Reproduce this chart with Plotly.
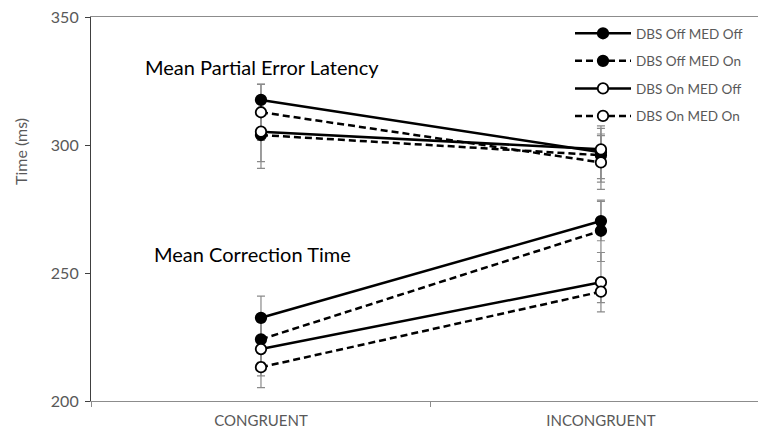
import plotly.graph_objects as go

categories = ["CONGRUENT", "INCONGRUENT"]
series_names = ["DBS Off MED Off", "DBS Off MED On", "DBS On MED Off", "DBS On MED On"]

# Mean Partial Error Latency (ms)
latency_means = {
    "DBS Off MED Off": [317.6, 297.2],
    "DBS Off MED On": [303.9, 296.0],
    "DBS On MED Off": [305.2, 298.3],
    "DBS On MED On": [312.8, 293.2],
}
latency_errors = {
    "DBS Off MED Off": [6.1, 10.3],
    "DBS Off MED On": [13.0, 10.5],
    "DBS On MED Off": [11.7, 6.0],
    "DBS On MED On": [11.0, 10.5],
}
# Mean Correction Time (ms)
correction_means = {
    "DBS Off MED Off": [232.5, 270.3],
    "DBS Off MED On": [224.1, 266.5],
    "DBS On MED Off": [220.3, 246.4],
    "DBS On MED On": [213.2, 242.7],
}
correction_errors = {
    "DBS Off MED Off": [8.5, 7.7],
    "DBS Off MED On": [9.0, 12.0],
    "DBS On MED Off": [10.5, 11.6],
    "DBS On MED On": [8.0, 4.3],
}

y_ticks = [200, 250, 300, 350]

styles = {
    "DBS Off MED Off": dict(dash="solid", fill="black"),
    "DBS Off MED On": dict(dash="7px,4px", fill="black"),
    "DBS On MED Off": dict(dash="solid", fill="white"),
    "DBS On MED On": dict(dash="7px,4px", fill="white"),
}

FONT = "Lato"
GRAY = "#595959"

fig = go.Figure()

# error bars first (behind everything)
for name in series_names:
    for means, errs in ((latency_means, latency_errors), (correction_means, correction_errors)):
        fig.add_trace(go.Scatter(
            x=categories, y=means[name], mode="markers",
            marker=dict(size=1, color="rgba(0,0,0,0)"),
            error_y=dict(type="data", array=errs[name], visible=True,
                         color="#8a8a8a", thickness=1.2, width=4),
            showlegend=False, hoverinfo="skip"))

# lines + markers
for name in series_names:
    st = styles[name]
    for i, means in enumerate((latency_means, correction_means)):
        fig.add_trace(go.Scatter(
            x=categories, y=means[name], mode="lines+markers", name=name,
            legendgroup=name, showlegend=(i == 0),
            line=dict(color="black", width=2.5, dash=st["dash"]),
            marker=dict(symbol="circle", size=10.5, color=st["fill"],
                        line=dict(color="black", width=1.8)),
        ))

fig.add_annotation(x=143, y=67, xref="paper", yref="paper", text="Mean Partial Error Latency",
                   showarrow=False, xanchor="left", yanchor="middle",
                   font=dict(family=FONT, size=20, color="black"))
fig.add_annotation(x=152, y=254, xref="paper", yref="paper", text="Mean Correction Time",
                   showarrow=False, xanchor="left", yanchor="middle",
                   font=dict(family=FONT, size=20, color="black"))
fig.add_annotation(x=20, y=152, xref="paper", yref="paper", text="Time (ms)", textangle=-90,
                   showarrow=False, xanchor="center", yanchor="middle",
                   font=dict(family=FONT, size=16, color=GRAY))

# convert pixel positions of annotations to paper coords
W, H, L, R, T, B = 758, 434, 91, 0, 17, 33
pw, ph = W - L - R, H - T - B
for a in fig.layout.annotations:
    a.x = (a.x - L) / pw
    a.y = 1 - (a.y - T) / ph

fig.update_layout(
    width=W, height=H,
    margin=dict(l=L, r=R, t=T, b=B),
    plot_bgcolor="white", paper_bgcolor="white",
    font=dict(family=FONT, color=GRAY, size=14),
    legend=dict(x=(570 - L) / pw, y=1 - (18 - T) / ph, xanchor="left", yanchor="top",
                bgcolor="rgba(0,0,0,0)", tracegroupgap=7, itemwidth=56,
                font=dict(family=FONT, size=13.5, color=GRAY)),
    xaxis=dict(type="category", range=[-0.5, 1.462], tickson="boundaries",
               ticks="outside", ticklen=5, tickcolor="#8c8c8c", automargin=False,
               showline=True, linecolor="#8c8c8c", linewidth=1.2, mirror=True,
               showgrid=False, zeroline=False, ticklabelstandoff=6,
               tickfont=dict(family=FONT, size=15, color=GRAY)),
    yaxis=dict(range=[200, 350], tickvals=y_ticks, ticks="outside", ticklen=5,
               tickcolor="#404040", showline=True, linecolor="#404040", linewidth=1.2,
               showgrid=False, zeroline=False, automargin=False, ticklabelstandoff=3,
               tickfont=dict(family=FONT, size=16, color=GRAY)),
)

fig.write_html("out.html", config={"displayModeBar": False},
               post_script="document.body.style.margin='0';document.body.style.overflow='hidden';")
